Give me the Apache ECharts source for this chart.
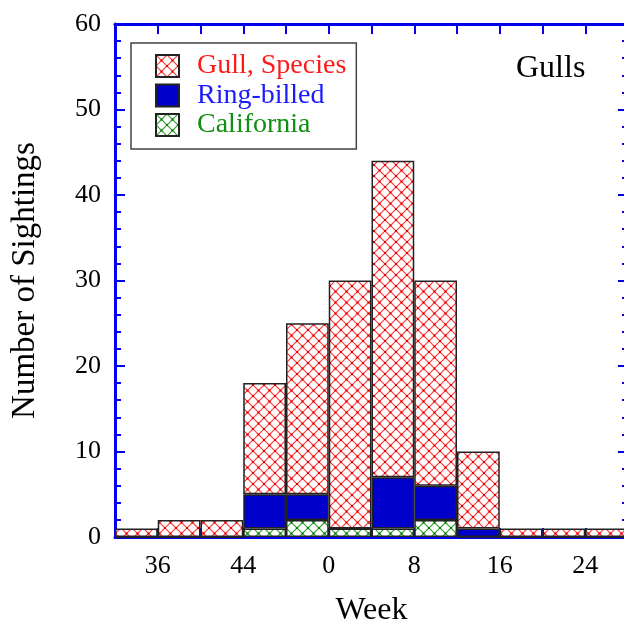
<!DOCTYPE html>
<html>
<head>
<meta charset="utf-8">
<script src="https://cdn.jsdelivr.net/npm/echarts@6/dist/echarts.min.js"></script>
<style>html,body{margin:0;padding:0;background:#fff;}#c{width:624px;height:624px;}</style>
</head>
<body>
<div id="c"></div>
<script>
// Week bins (4-week bins starting at week 32, wrapping 52 -> 0)
const binStarts = [32, 36, 40, 44, 48, 0, 4, 8, 12, 16, 20, 24];
const california = [0, 0, 0, 1, 2, 1, 1, 2, 0, 0, 0, 0];
const ringBilled = [0, 0, 0, 4, 3, 0, 6, 4, 1, 0, 0, 0];
const gullSpecies = [1, 2, 2, 13, 20, 29, 37, 24, 9, 1, 1, 1];
const weekTickLabels = [36, 44, 0, 8, 16, 24];
const yTicks = [0, 10, 20, 30, 40, 50, 60];

function hatch(color, dot) {
  const s = 11;
  const c = document.createElement('canvas');
  c.width = s; c.height = s;
  const g = c.getContext('2d');
  g.fillStyle = '#fff'; g.fillRect(0, 0, s, s);
  g.strokeStyle = color; g.lineWidth = 1.2;
  g.beginPath();
  g.moveTo(0, 0); g.lineTo(s, s);
  g.moveTo(s, 0); g.lineTo(0, s);
  g.stroke();
  g.fillStyle = dot;
  g.fillRect(s / 2 - 1, s / 2 - 1, 2, 2);
  g.fillRect(0, 0, 1, 1); g.fillRect(s - 1, 0, 1, 1); g.fillRect(0, s - 1, 1, 1); g.fillRect(s - 1, s - 1, 1, 1);
  return { image: c, repeat: 'repeat' };
}
const redHatch = hatch('#ff3a3a', '#e00000');
const greenHatch = hatch('#30a030', '#087808');

const FONT = 'Liberation Serif';
const AX = '#0000ee';
const chart = echarts.init(document.getElementById('c'), null, { renderer: 'canvas' });
const border = { borderColor: '#222', borderWidth: 1.5 };

chart.setOption({
  animation: false,
  backgroundColor: '#fff',
  grid: { left: 115, right: -4, top: 24, bottom: 87, containLabel: false, outerBoundsMode: 'none' },
  legend: {
    orient: 'vertical', left: 131, top: 43,
    padding: [9, 10, 10, 24],
    borderColor: '#444', borderWidth: 1.5, backgroundColor: '#fff',
    itemWidth: 23, itemHeight: 22, itemGap: 1.5, icon: 'rect',
    textStyle: { fontFamily: FONT, fontSize: 28, padding: [0, 0, 0, 13] },
    data: [
      { name: 'Gull, Species', textStyle: { color: '#ff1a1a' } },
      { name: 'Ring-billed', textStyle: { color: '#1a1aff' } },
      { name: 'California', textStyle: { color: '#109010' } }
    ]
  },
  xAxis: [
    { type: 'category', data: binStarts.map(String), show: false, boundaryGap: true },
    {
      type: 'value', position: 'bottom', min: 32, max: 80, interval: 4,
      name: 'Week', nameLocation: 'middle', nameGap: 58,
      nameTextStyle: { fontFamily: FONT, fontSize: 32, color: '#000' },
      axisLine: { show: true, lineStyle: { color: AX, width: 3 } },
      axisTick: { show: true, inside: true, length: 9, lineStyle: { color: AX, width: 2 } },
      axisLabel: {
        fontFamily: FONT, fontSize: 26, color: '#000', margin: 16,
        formatter: v => { const w = v % 52; return weekTickLabels.includes(w) && (v - 36) % 8 === 0 ? String(w) : ''; }
      },
      splitLine: { show: false }
    },
    {
      type: 'value', position: 'top', min: 32, max: 80, interval: 4,
      axisLine: { show: true, lineStyle: { color: AX, width: 3 } },
      axisTick: { show: true, inside: true, length: 10, lineStyle: { color: AX, width: 2 } },
      axisLabel: { show: false }, splitLine: { show: false }
    }
  ],
  yAxis: [
    {
      type: 'value', position: 'left', min: 0, max: 60, interval: 10,
      name: 'Number of Sightings', nameLocation: 'middle', nameGap: 73,
      nameTextStyle: { fontFamily: FONT, fontSize: 33, color: '#000' },
      axisLine: { show: true, lineStyle: { color: AX, width: 3 } },
      axisTick: { show: true, inside: true, length: 10, lineStyle: { color: AX, width: 2 } },
      minorTick: { show: true, splitNumber: 5, length: 6, lineStyle: { color: AX, width: 2 } },
      axisLabel: { fontFamily: FONT, fontSize: 26, color: '#000', margin: 14,
        formatter: v => yTicks.includes(v) ? String(v) : '' },
      splitLine: { show: false }
    },
    {
      type: 'value', position: 'right', min: 0, max: 60, interval: 10,
      axisLine: { show: true, lineStyle: { color: AX, width: 3 } },
      axisTick: { show: true, inside: true, length: 10, lineStyle: { color: AX, width: 2 } },
      minorTick: { show: true, splitNumber: 5, length: 6, lineStyle: { color: AX, width: 2 } },
      axisLabel: { show: false }, splitLine: { show: false }
    }
  ],
  series: [
    { name: 'California', type: 'bar', stack: 'g', xAxisIndex: 0, yAxisIndex: 0,
      barCategoryGap: '0%', data: california,
      itemStyle: Object.assign({ color: greenHatch }, border) },
    { name: 'Ring-billed', type: 'bar', stack: 'g', xAxisIndex: 0, yAxisIndex: 0,
      barCategoryGap: '0%', data: ringBilled,
      itemStyle: Object.assign({ color: '#0000cc' }, border) },
    { name: 'Gull, Species', type: 'bar', stack: 'g', xAxisIndex: 0, yAxisIndex: 0,
      barCategoryGap: '0%', data: gullSpecies,
      itemStyle: Object.assign({ color: redHatch }, border) }
  ],
  graphic: [
    { type: 'text', left: 516, top: 53, z: 10,
      style: { text: 'Gulls', font: '32px "Liberation Serif"', fill: '#000' } }
  ]
});
</script>
</body>
</html>
